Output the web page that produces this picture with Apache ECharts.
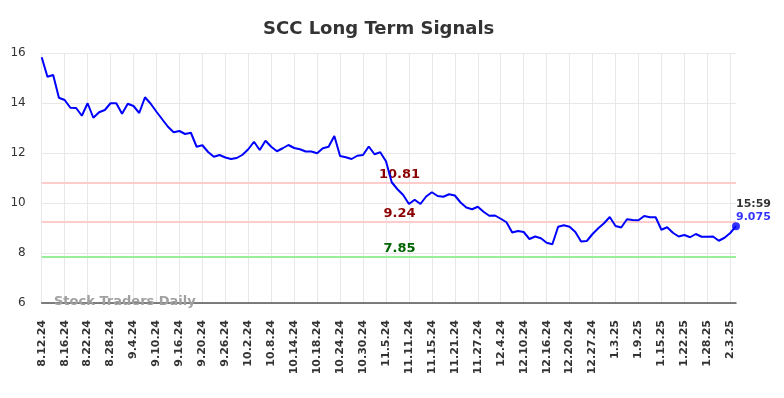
<!DOCTYPE html>
<html>
<head>
<meta charset="utf-8">
<script src="https://cdn.jsdelivr.net/npm/echarts@6/dist/echarts.min.js"></script>
<style>html,body{margin:0;padding:0;background:#fff;}#c{width:784px;height:398px;}</style>
</head>
<body>
<div id="c"></div>
<script>
var dates = ['8.12.24','8.13.24','8.14.24','8.15.24','8.16.24','8.19.24','8.20.24','8.21.24','8.22.24','8.23.24','8.26.24','8.27.24','8.28.24','8.29.24','8.30.24',
'9.3.24','9.4.24','9.5.24','9.6.24','9.9.24','9.10.24','9.11.24','9.12.24','9.13.24','9.16.24','9.17.24','9.18.24','9.19.24','9.20.24','9.23.24','9.24.24','9.25.24','9.26.24','9.27.24','9.30.24',
'10.1.24','10.2.24','10.3.24','10.4.24','10.7.24','10.8.24','10.9.24','10.10.24','10.11.24','10.14.24','10.15.24','10.16.24','10.17.24','10.18.24','10.21.24','10.22.24','10.23.24','10.24.24','10.25.24','10.28.24','10.29.24','10.30.24','10.31.24',
'11.1.24','11.4.24','11.5.24','11.6.24','11.7.24','11.8.24','11.11.24','11.12.24','11.13.24','11.14.24','11.15.24','11.18.24','11.19.24','11.20.24','11.21.24','11.22.24','11.25.24','11.26.24','11.27.24','11.29.24',
'12.2.24','12.3.24','12.4.24','12.5.24','12.6.24','12.9.24','12.10.24','12.11.24','12.12.24','12.13.24','12.16.24','12.17.24','12.18.24','12.19.24','12.20.24','12.23.24','12.24.24','12.26.24','12.27.24','12.30.24','12.31.24',
'1.2.25','1.3.25','1.6.25','1.7.25','1.8.25','1.9.25','1.10.25','1.13.25','1.14.25','1.15.25','1.16.25','1.17.25','1.21.25','1.22.25','1.23.25','1.24.25','1.27.25','1.28.25','1.29.25','1.30.25','1.31.25',
'2.3.25','2.4.25'];

var prices = [15.83,15.05,15.12,14.21,14.12,13.81,13.80,13.49,13.99,13.41,13.63,13.72,13.99,13.99,13.57,
13.97,13.88,13.60,14.23,13.97,13.65,13.35,13.05,12.83,12.88,12.76,12.81,12.25,12.31,12.04,11.85,11.92,11.82,11.76,11.80,
11.93,12.15,12.45,12.12,12.49,12.25,12.07,12.19,12.32,12.20,12.15,12.06,12.06,11.99,12.19,12.25,12.68,11.88,11.83,11.76,11.89,11.92,12.26,
11.95,12.03,11.67,10.83,10.55,10.32,9.96,10.13,9.96,10.26,10.43,10.28,10.25,10.35,10.30,10.02,9.82,9.75,9.85,9.65,
9.49,9.50,9.37,9.23,8.82,8.88,8.84,8.56,8.66,8.59,8.41,8.35,9.05,9.11,9.05,8.84,8.46,8.48,8.76,8.99,9.19,
9.44,9.08,9.02,9.35,9.32,9.31,9.48,9.43,9.43,8.93,9.03,8.81,8.66,8.72,8.63,8.76,8.65,8.65,8.66,8.49,8.61,
8.80,9.075];

var levels = [10.81, 9.24, 7.85];
var levelLineColors = ['#ffcccc', '#ffcccc', '#99ee99'];
var levelTextColors = ['#8b0000', '#8b0000', '#006400'];
var levelLabelAt = '11.7.24';
var lastTime = '15:59';
var yTicks = [6, 8, 10, 12, 14, 16];

var FONT = 'DejaVu Sans';
var lastIdx = prices.length - 1;

var chart = echarts.init(document.getElementById('c'), null, {renderer: 'canvas'});

var markLineData = levels.map(function (v, i) {
  return {yAxis: v, lineStyle: {color: levelLineColors[i], width: 2, type: 'solid'}};
});
var markPointData = levels.map(function (v, i) {
  return {
    coord: [levelLabelAt, v],
    label: {color: levelTextColors[i]}
  };
});

chart.setOption({
  animation: false,
  backgroundColor: '#ffffff',
  title: {
    text: 'SCC Long Term Signals',
    left: 258,
    top: 15,
    textStyle: {fontFamily: FONT, fontSize: 18, fontWeight: 'bold', color: '#333333'}
  },
  grid: {left: 41.7, right: 48, top: 53, bottom: 95, containLabel: false},
  xAxis: {
    type: 'category',
    data: dates,
    boundaryGap: false,
    axisLine: {show: true, lineStyle: {color: '#555555', width: 1.5}},
    axisTick: {show: false},
    axisLabel: {
      interval: 3,
      rotate: 90,
      margin: 17,
      fontFamily: FONT,
      fontSize: 11,
      fontWeight: 'bold',
      color: '#333333'
    },
    splitLine: {show: true, interval: 3, lineStyle: {color: '#e8e8e8', width: 1}}
  },
  yAxis: {
    type: 'value',
    min: yTicks[0],
    max: yTicks[yTicks.length - 1],
    interval: 2,
    axisLine: {show: false},
    axisTick: {show: false},
    axisLabel: {margin: 16, fontFamily: FONT, fontSize: 12, color: '#333333'},
    splitLine: {show: true, lineStyle: {color: '#e8e8e8', width: 1}}
  },
  graphic: [{
    type: 'text',
    left: 54,
    top: 295,
    z: 100,
    style: {text: 'Stock Traders Daily', fill: '#a0a0a0', font: 'bold 13px "DejaVu Sans"'}
  }],
  series: [
    {
      type: 'line',
      data: prices,
      showSymbol: false,
      symbol: 'none',
      lineStyle: {color: '#0000ff', width: 2},
      z: 5,
      markLine: {
        silent: true,
        symbol: ['none', 'none'],
        label: {show: false},
        data: markLineData,
        z: 3
      },
      markPoint: {
        silent: true,
        symbol: 'circle',
        symbolSize: 0,
        label: {
          show: true,
          position: 'top',
          distance: 2,
          offset: [2, 0],
          fontFamily: FONT,
          fontSize: 13,
          fontWeight: 'bold',
          formatter: function (p) { return p.data.coord[1].toFixed(2); }
        },
        data: markPointData
      }
    },
    {
      type: 'scatter',
      data: [[lastIdx, prices[lastIdx]]],
      symbol: 'circle',
      symbolSize: 8,
      itemStyle: {color: '#0000ff'},
      z: 6,
      label: {
        show: true,
        position: [4, -24.5],
        align: 'left',
        verticalAlign: 'top',
        formatter: function (p) { return '{t|' + lastTime + '}\n{v|' + p.value[1] + '}'; },
        rich: {
          t: {fontFamily: FONT, fontSize: 11, fontWeight: 'bold', color: '#000000', lineHeight: 13},
          v: {fontFamily: FONT, fontSize: 11, fontWeight: 'bold', color: '#0000ff', lineHeight: 13}
        }
      }
    }
  ]
});
</script>
</body>
</html>
